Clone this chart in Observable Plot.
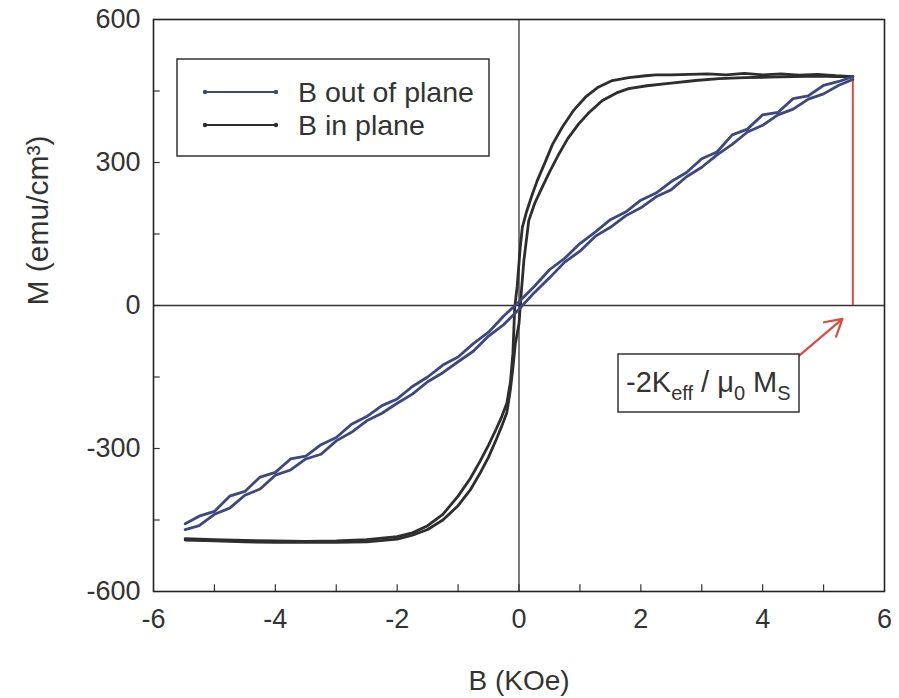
<!DOCTYPE html>
<html>
<head>
<meta charset="utf-8">
<script src="https://cdn.jsdelivr.net/npm/d3@7"></script>
<script src="https://cdn.jsdelivr.net/npm/@observablehq/plot@0.6"></script>
<style>
  body { margin: 0; background: #fff; }
  #chart svg { display: block; }
</style>
</head>
<body>
<div id="chart"></div>
<script>
// ---------- data ----------
const seriesNames = ["B out of plane", "B in plane"];
const seriesColors = ["#3d4780", "#2e2e2e"];

const xTicks = [-6, -4, -2, 0, 2, 4, 6];
const xMinorTicks = [-5, -3, -1, 1, 3, 5];
const yTicks = [-600, -300, 0, 300, 600];
const yMinorTicks = [-450, -150, 150, 450];

const xTitle = "B (KOe)";
const yTitle = "M (emu/cm³)";

// in-plane loop, descending branch (from +B to -B)
const ipDownB = [5.48, 5.2, 4.9, 4.6, 4.3, 4.0, 3.7, 3.4, 3.1, 2.8, 2.5, 2.25, 2.08, 1.8, 1.53, 1.3, 1.09, 0.9, 0.71, 0.55, 0.44, 0.3, 0.22, 0.12, 0.055, 0.02, -0.03, -0.07, -0.1, -0.14, -0.2, -0.28, -0.37, -0.5, -0.64, -0.8, -1.0, -1.25, -1.5, -1.75, -2.0, -2.5, -3.0, -3.5, -4.0, -4.5, -5.0, -5.48];
const ipDownM = [480, 482, 485, 483, 486, 484, 487, 484, 486, 485, 484, 484, 482, 478, 472, 458, 437, 410, 374, 338, 304, 262, 234, 195, 164, 122, 40, -3, -100, -160, -205, -232, -258, -293, -327, -363, -400, -438, -462, -477, -485, -491, -494, -495, -494, -493, -491, -489];
// in-plane loop, ascending branch (from -B to +B)
const ipUpB = [-5.48, -5.0, -4.5, -4.0, -3.5, -3.0, -2.5, -2.0, -1.75, -1.5, -1.25, -1.0, -0.8, -0.64, -0.5, -0.37, -0.28, -0.2, -0.14, -0.1, -0.06, 0.0, 0.04, 0.08, 0.16, 0.26, 0.38, 0.5, 0.66, 0.8, 0.98, 1.15, 1.37, 1.6, 1.8, 2.1, 2.46, 2.9, 3.28, 3.7, 4.1, 4.5, 4.9, 5.2, 5.48];
const ipUpM = [-492, -494, -496, -497, -497, -497, -496, -490, -482, -470, -450, -420, -387, -352, -318, -280, -252, -225, -175, -130, -80, -38, 31, 94, 178, 215, 248, 280, 319, 350, 381, 405, 430, 446, 455, 461, 466, 472, 476, 478, 479, 480, 481, 480, 480];

// out-of-plane loop, descending branch
const opDownB = [5.48, 5.25, 5.0, 4.75, 4.5, 4.25, 4.0, 3.75, 3.5, 3.25, 3.0, 2.75, 2.5, 2.25, 2.0, 1.75, 1.5, 1.25, 1.0, 0.75, 0.5, 0.25, 0.0, -0.25, -0.5, -0.75, -1.0, -1.25, -1.5, -1.75, -2.0, -2.25, -2.5, -2.75, -3.0, -3.25, -3.5, -3.75, -4.0, -4.25, -4.5, -4.75, -5.0, -5.25, -5.48];
const opDownM = [480, 470, 462, 440, 434, 405, 400, 370, 358, 322, 308, 279, 260, 236, 221, 196, 180, 154, 130, 99, 75, 40, 8, -22, -56, -80, -108, -125, -150, -170, -196, -210, -233, -249, -277, -292, -316, -322, -350, -360, -390, -400, -432, -442, -458];
// out-of-plane loop, ascending branch
const opUpB = [-5.48, -5.25, -5.0, -4.75, -4.5, -4.25, -4.0, -3.75, -3.5, -3.25, -3.0, -2.75, -2.5, -2.25, -2.0, -1.75, -1.5, -1.25, -1.0, -0.75, -0.5, -0.25, 0.0, 0.25, 0.5, 0.75, 1.0, 1.25, 1.5, 1.75, 2.0, 2.25, 2.5, 2.75, 3.0, 3.25, 3.5, 3.75, 4.0, 4.25, 4.5, 4.75, 5.0, 5.25, 5.48];
const opUpM = [-470, -462, -438, -425, -398, -385, -356, -345, -322, -312, -284, -266, -242, -226, -205, -186, -160, -141, -118, -96, -64, -40, -8, 27, 58, 91, 114, 145, 164, 188, 205, 228, 243, 270, 290, 316, 338, 364, 378, 400, 412, 433, 444, 462, 474];

// saturation marker (red line) and annotation arrow
const satB = 5.48;
const satM = 480;
const arrowFromB = 4.6, arrowFromM = -105;
const arrowToB = 5.31, arrowToM = -28;

// ---------- table ----------
const table = [];
function addBranch(series, branch, Bs, Ms) {
  Bs.forEach((b, i) => table.push({series, branch, B: b, M: Ms[i]}));
}
addBranch(seriesNames[1], "down", ipDownB, ipDownM);
addBranch(seriesNames[1], "up", ipUpB, ipUpM);
addBranch(seriesNames[0], "down", opDownB, opDownM);
addBranch(seriesNames[0], "up", opUpB, opUpM);

const allXTicks = xTicks.concat(xMinorTicks).filter(d => d > -6 && d < 6);
const allYTicks = yTicks.concat(yMinorTicks).filter(d => d > -600 && d < 600);

const red = "#dc4a40";

const chart = Plot.plot({
  width: 899,
  height: 698,
  marginLeft: 153,
  marginRight: 15,
  marginTop: 19,
  marginBottom: 107,
  style: {fontFamily: '"Liberation Sans", Arial, sans-serif', fontSize: "27px", color: "#333", background: "#fff", overflow: "visible"},
  x: {domain: [-6, 6]},
  y: {domain: [-600, 600]},
  color: {domain: seriesNames, range: seriesColors},
  marks: [
    Plot.ruleX([0], {stroke: "#333", strokeWidth: 1.3}),
    Plot.ruleY([0], {stroke: "#333", strokeWidth: 1.3}),
    Plot.ruleX([satB], {y1: 0, y2: satM, stroke: red, strokeWidth: 2}),
    Plot.line(table, {x: "B", y: "M", z: d => d.series + d.branch, stroke: "series", strokeWidth: 2.8, curve: "linear"}),
    Plot.arrow([{x1: arrowFromB, y1: arrowFromM, x2: arrowToB, y2: arrowToM}], {x1: "x1", y1: "y1", x2: "x2", y2: "y2", stroke: red, strokeWidth: 2.2, headLength: 14}),
    // inward ticks
    Plot.ruleX(allXTicks, {x: d => d, y1: -600, y2: -586, stroke: "#333", strokeWidth: 1.2}),
    Plot.ruleY(allYTicks, {y: d => d, x1: -6, x2: -5.89, stroke: "#333", strokeWidth: 1.2}),
    Plot.frame({stroke: "#222", strokeWidth: 1.6}),
    Plot.axisX({ticks: xTicks, tickSize: 0, tickPadding: 17, tickFormat: d => String(d), label: null, fill: "#333"}),
    Plot.axisY({ticks: yTicks, tickSize: 0, tickPadding: 13, tickFormat: d => String(d), label: null, fill: "#333"}),
    Plot.text([xTitle], {text: d => d, frameAnchor: "bottom", dy: 98, fontSize: 28, fill: "#333"}),
    Plot.text([yTitle], {text: d => d, frameAnchor: "left", dx: -115, rotate: -90, fontSize: 30, fill: "#333"})
  ]
});

document.getElementById("chart").appendChild(chart);

// ---------- legend & annotation box (real SVG text) ----------
const svg = d3.select(chart);
const font = '"Liberation Sans", Arial, sans-serif';

const lg = svg.append("g").attr("class", "legend").attr("text-anchor", "start");
lg.append("rect").attr("x", 177).attr("y", 59).attr("width", 312).attr("height", 97)
  .attr("fill", "#fff").attr("stroke", "#333").attr("stroke-width", 1.5);
seriesNames.forEach((name, i) => {
  const y = 92 + i * 33;
  lg.append("line").attr("x1", 205).attr("x2", 276).attr("y1", y).attr("y2", y)
    .attr("stroke", seriesColors[i]).attr("stroke-width", 2);
  [205, 276].forEach(cx => lg.append("circle").attr("cx", cx).attr("cy", y).attr("r", 2.2).attr("fill", seriesColors[i]));
  lg.append("text").attr("x", 298).attr("y", y + 10).attr("text-anchor", "start")
    .attr("font-family", font).attr("font-size", 28.5).attr("fill", "#333").text(name);
});

const an = svg.append("g").attr("class", "annotation").attr("text-anchor", "start");
an.append("rect").attr("x", 618).attr("y", 354).attr("width", 181).attr("height", 58)
  .attr("fill", "#fff").attr("stroke", "#333").attr("stroke-width", 1.5);
const t = an.append("text").attr("x", 626).attr("y", 392).attr("text-anchor", "start")
  .attr("font-family", font).attr("font-size", 29).attr("fill", "#333");
t.append("tspan").text("-2K");
t.append("tspan").attr("font-size", 20).attr("dy", 8).text("eff");
t.append("tspan").attr("dy", -8).text(" / μ");
t.append("tspan").attr("font-size", 20).attr("dy", 8).text("0");
t.append("tspan").attr("dy", -8).text(" M");
t.append("tspan").attr("font-size", 20).attr("dy", 8).text("S");
</script>
</body>
</html>
